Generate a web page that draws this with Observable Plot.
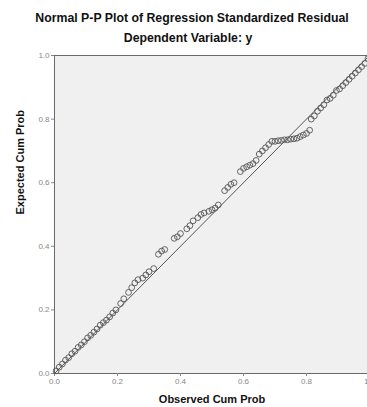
<!DOCTYPE html>
<html>
<head>
<meta charset="utf-8">
<script src="https://cdn.jsdelivr.net/npm/d3@7"></script>
<script src="https://cdn.jsdelivr.net/npm/@observablehq/plot@0.6"></script>
<style>
  html, body { margin: 0; padding: 0; background: #fff; }
  #chart svg { display: block; }
</style>
</head>
<body>
<div id="chart"></div>
<script>
const title = "Normal P-P Plot of Regression Standardized Residual";
const subtitle = "Dependent Variable: y";
const xLabel = "Observed Cum Prob";
const yLabel = "Expected Cum Prob";
const ticks = [0, 0.2, 0.4, 0.6, 0.8, 1.0];

const observed = [
  0.005,0.015,0.025,0.035,0.045,0.055,0.065,0.075,0.085,0.095,0.105,0.115,0.125,0.135,0.145,0.155,0.165,0.175,0.185,0.195,
  0.21,0.22,0.235,0.245,0.255,0.265,0.28,0.29,0.30,0.315,0.33,0.34,0.35,
  0.38,0.39,0.40,0.42,0.43,0.44,0.455,0.465,0.475,0.49,0.50,0.51,0.52,
  0.54,0.55,0.56,0.57,0.59,0.60,0.61,0.62,0.63,0.64,0.65,0.66,0.67,0.68,
  0.69,0.70,0.71,0.72,0.73,0.74,0.75,0.76,0.77,0.78,0.79,0.80,0.81,
  0.815,0.825,0.835,0.845,0.855,0.865,0.875,0.885,0.895,0.905,0.915,0.925,0.935,0.945,0.955,0.965,0.975,0.985,0.995
];
const expected = [
  0.008,0.02,0.03,0.042,0.05,0.062,0.07,0.082,0.09,0.10,0.112,0.12,0.13,0.14,0.152,0.16,0.168,0.178,0.19,0.20,
  0.22,0.235,0.255,0.27,0.285,0.295,0.30,0.31,0.32,0.33,0.375,0.385,0.39,
  0.425,0.43,0.44,0.455,0.465,0.48,0.49,0.50,0.505,0.51,0.515,0.52,0.53,
  0.575,0.585,0.595,0.60,0.635,0.645,0.65,0.655,0.66,0.67,0.69,0.70,0.71,0.72,
  0.73,0.73,0.732,0.733,0.735,0.735,0.737,0.738,0.74,0.745,0.75,0.755,0.765,
  0.80,0.81,0.825,0.835,0.845,0.86,0.865,0.875,0.89,0.895,0.905,0.915,0.925,0.935,0.945,0.955,0.965,0.975,0.99
];
const refX = [0, 1];
const refY = [0, 1];

const points = observed.map((x, i) => ({x, y: expected[i]}));
const ref = refX.map((x, i) => ({x, y: refY[i]}));

const chart = Plot.plot({
  width: 367,
  height: 407,
  marginLeft: 54,
  marginRight: -2,
  marginTop: 55,
  marginBottom: 34,
  style: {fontFamily: "Liberation Sans, Arial, sans-serif", background: "#fff"},
  x: {domain: [0, 1], ticks: ticks, tickFormat: d3.format(".1f"), tickSize: 3, label: null},
  y: {domain: [0, 1], ticks: ticks, tickFormat: d3.format(".1f"), tickSize: 3, label: null},
  marks: [
    Plot.frame({fill: "#f0f0f0", stroke: "#6a6a6a"}),
    Plot.axisX({ticks: ticks, tickFormat: d3.format(".1f"), tickSize: 3, fontSize: 8, color: "#888", tickPadding: 2}),
    Plot.axisY({ticks: ticks, tickFormat: d3.format(".1f"), tickSize: 3, fontSize: 8, color: "#888", tickPadding: 2}),
    Plot.line(ref, {x: "x", y: "y", stroke: "#555", strokeWidth: 1}),
    Plot.dot(points, {x: "x", y: "y", r: 2.9, stroke: "#555", strokeWidth: 0.9, fill: "none"}),
    Plot.text([title], {frameAnchor: "top", dx: -20, dy: -42, text: d => d, fontSize: 12.3, fontWeight: "bold", fill: "#111"}),
    Plot.text([subtitle], {frameAnchor: "top", dx: -24, dy: -22, text: d => d, fontSize: 12.3, fontWeight: "bold", fill: "#111"}),
    Plot.text([xLabel], {frameAnchor: "bottom", dy: 29, text: d => d, fontSize: 11, fontWeight: "bold", fill: "#111"}),
    Plot.text([yLabel], {frameAnchor: "left", dx: -34, rotate: -90, text: d => d, fontSize: 11, fontWeight: "bold", fill: "#111"})
  ]
});
document.getElementById("chart").appendChild(chart);
</script>
</body>
</html>
